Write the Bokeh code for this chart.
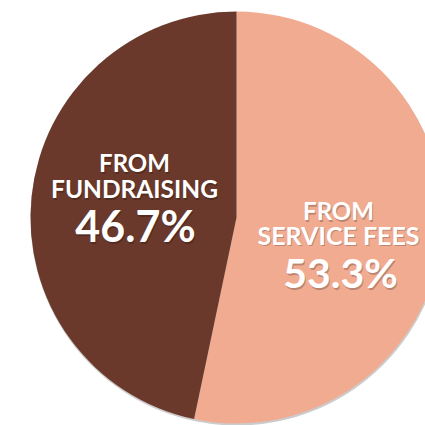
from math import pi
from bokeh.plotting import figure
from bokeh.models import Range1d, ColumnDataSource
from bokeh.core.properties import value
from bokeh.embed import file_html
from bokeh.resources import INLINE

categories = ["FROM SERVICE FEES", "FROM FUNDRAISING"]
shares = [53.3, 46.7]
colors = ["#F1AB91", "#6B392B"]

# compute wedge angles clockwise from 12 o'clock
total = sum(shares)
starts, ends = [], []
acc = 0.0
for s in shares:
    a0 = pi / 2 - 2 * pi * acc / total
    acc += s
    a1 = pi / 2 - 2 * pi * acc / total
    starts.append(a1)
    ends.append(a0)

src = ColumnDataSource(dict(cat=categories, val=shares, color=colors, start=starts, end=ends))

p = figure(width=425, height=425, output_backend="svg", toolbar_location=None,
           x_range=Range1d(0, 425), y_range=Range1d(0, 425), min_border=0)
p.axis.visible = False
p.grid.visible = False
p.outline_line_color = None
p.background_fill_color = "white"
p.border_fill_color = "white"

cx, cy, r = 236, 208, 206
# soft shadow
p.circle(x=[cx + 0.5], y=[cy - 1.5], radius=r + 0.5, fill_color="#9a9a9a", fill_alpha=0.5, line_color=None)
p.wedge(x=cx, y=cy, radius=r, start_angle="start", end_angle="end", fill_color="color",
        line_color=None, source=src)

FONT = "Lato"

def label(x, y, txt, size):
    p.text(x=[x], y=[y], text=[txt], text_font=value(FONT), text_font_size=size,
           text_font_style="bold", text_align="center", text_baseline="middle",
           text_color="black", text_alpha=0.22, x_offset=1, y_offset=1.5)
    p.text(x=[x], y=[y], text=[txt], text_font=value(FONT), text_font_size=size,
           text_font_style="bold", text_align="center", text_baseline="middle",
           text_color="white")

left_words = categories[1].split(" ", 1)
right_words = categories[0].split(" ", 1)
label(134, 263, left_words[0], "24px")
label(134, 237, left_words[1], "24.5px")
label(135, 200, f"{shares[1]:.1f}%", "43px")
label(338, 215, right_words[0], "24px")
label(338, 191, right_words[1], "25px")
label(340, 153, f"{shares[0]:.1f}%", "41px")

open("out.html", "w").write(file_html(p, INLINE))
